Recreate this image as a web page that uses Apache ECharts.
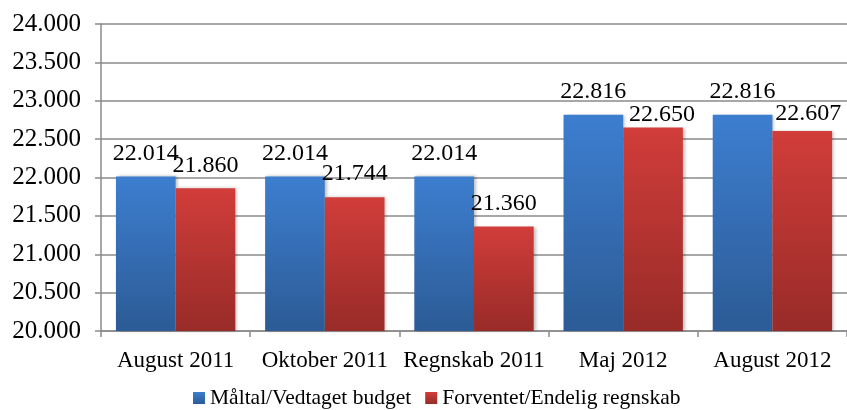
<!DOCTYPE html>
<html style="height: 100%">
<head>
    <meta charset="utf-8">
    <script src="https://cdn.jsdelivr.net/npm/echarts@6/dist/echarts.min.js"></script>
</head>
<body style="height: 100%; margin: 0; background: #fff;">
<div id="container" style="width: 847px; height: 410px;"></div>
<script type="text/javascript">
    // data
    var categories = ['August 2011', 'Oktober 2011', 'Regnskab 2011', 'Maj 2012', 'August 2012'];
    var seriesNames = ['Måltal/Vedtaget budget', 'Forventet/Endelig regnskab'];
    var budget = [22014, 22014, 22014, 22816, 22816];
    var regnskab = [21860, 21744, 21360, 22650, 22607];
    var yTicks = [20000, 24000, 500]; // min, max, step

    // danish thousand separator: 22014 -> 22.014
    function fmt(v) {
        var s = String(Math.round(v) % 1000);
        while (s.length < 3) s = '0' + s;
        return Math.floor(v / 1000) + '.' + s;
    }

    var serif = '"Liberation Serif", "Times New Roman", serif';
    var grey = '#8a8a8a';

    function grad(top, bottom) {
        return new echarts.graphic.LinearGradient(0, 0, 0, 1, [
            {offset: 0, color: top},
            {offset: 1, color: bottom}
        ]);
    }
    var colors = [grad('#3d7ed0', '#2c5b95'), grad('#d13d3a', '#982b28')];

    // labels excel pushed around near the top
    var nudge = {1: {3: [9, 10], 4: [6, 6]}};

    function makeSeries(idx, values) {
        return {
            name: seriesNames[idx],
            type: 'bar',
            barGap: 0,
            barCategoryGap: '20%',
            itemStyle: {
                color: colors[idx],
                shadowColor: 'rgba(0,0,0,0.25)',
                shadowBlur: 3,
                shadowOffsetX: 2
            },
            label: {
                show: true,
                position: 'top',
                distance: 11,
                color: '#000',
                fontFamily: serif,
                fontSize: 24,
                formatter: function (p) { return fmt(p.value); }
            },
            data: values.map(function (v, i) {
                var n = nudge[idx] && nudge[idx][i];
                if (n) return {value: v, label: {offset: n}};
                return v;
            })
        };
    }

    var chart = echarts.init(document.getElementById('container'));
    var option = {
        animation: false,
        grid: {left: 101, right: 0, top: 24, bottom: 79},
        legend: {
            top: 382,
            left: 188,
            icon: 'rect',
            itemWidth: 12,
            itemHeight: 12,
            itemGap: 14,
            textStyle: {fontFamily: serif, fontSize: 21.5, color: '#000'},
            data: seriesNames
        },
        xAxis: {
            type: 'category',
            data: categories,
            axisLine: {lineStyle: {color: grey, width: 1.5}},
            axisTick: {show: true, length: 6, lineStyle: {color: grey, width: 1.5}},
            axisLabel: {interval: 0, fontFamily: serif, fontSize: 23, color: '#000', margin: 18}
        },
        yAxis: {
            type: 'value',
            min: yTicks[0],
            max: yTicks[1],
            interval: yTicks[2],
            axisLine: {show: true, lineStyle: {color: grey, width: 1.5}},
            axisTick: {show: true, length: 6, lineStyle: {color: grey, width: 1.5}},
            splitLine: {lineStyle: {color: grey, width: 1.5}},
            axisLabel: {
                fontFamily: serif, fontSize: 25, color: '#000', margin: 20,
                formatter: fmt
            }
        },
        series: [makeSeries(0, budget), makeSeries(1, regnskab)]
    };
    chart.setOption(option);
</script>
</body>
</html>
